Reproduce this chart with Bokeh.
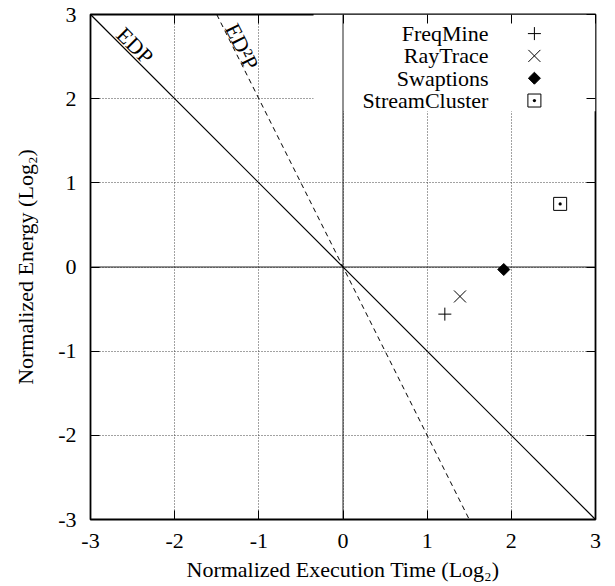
import numpy as np
from bokeh.plotting import figure
from bokeh.models import Span, BoxAnnotation, LinearAxis, FixedTicker
from bokeh.core.properties import value
from bokeh.embed import file_html
from bokeh.resources import INLINE

# ---- data ----
series = ["FreqMine", "RayTrace", "Swaptions", "StreamCluster"]
time_log2 = [1.21, 1.39, 1.91, 2.58]
energy_log2 = [-0.56, -0.35, -0.03, 0.75]
tick_values = [-3, -2, -1, 0, 1, 2, 3]
tick_labels = ["-3", "-2", "-1", "0", "1", "2", "3"]
edp_time = [-3, 3]
edp_energy = [3, -3]
ed2p_time = [-1.5, 1.5]
ed2p_energy = [3, -3]

# ---- styles ----
FONT = "Liberation Serif"
FS = "22px"
marker_styles = [
    dict(marker="cross", size=13, angle=0.0, fill_color=None),
    dict(marker="x", size=17, angle=0.0, fill_color=None),
    dict(marker="square", size=8.5, angle=np.pi / 4, fill_color="black"),
    dict(marker="square_dot", size=13, angle=0.0, fill_color=None),
]

p = figure(
    frame_width=505, frame_height=505,
    x_range=(-3, 3), y_range=(-3, 3),
    output_backend="svg", toolbar_location=None,
    min_border_left=90, min_border_right=20,
    min_border_top=14, min_border_bottom=67,
    background_fill_color="white", border_fill_color="white",
)
p.outline_line_color = "black"
p.outline_line_width = 1.8

overrides = {v: t for v, t in zip(tick_values, tick_labels)}
for ax in (p.xaxis[0], p.yaxis[0]):
    ax.ticker = FixedTicker(ticks=tick_values)
    ax.major_label_overrides = overrides
    ax.major_tick_in = 9
    ax.major_tick_out = 0
    ax.minor_tick_in = 0
    ax.minor_tick_out = 0
    ax.axis_line_color = None
    ax.major_tick_line_color = "black"
    ax.major_label_text_font = FONT
    ax.major_label_text_font_size = FS
    ax.major_label_text_color = "black"
    ax.axis_label_text_font = FONT
    ax.axis_label_text_font_size = FS
    ax.axis_label_text_font_style = "normal"
    ax.axis_label_text_color = "black"

p.xaxis.axis_label = "Normalized Execution Time (Log\u2082)"
p.yaxis.axis_label = "Normalized Energy (Log\u2082)"
p.xaxis.major_label_standoff = 14
p.xaxis.axis_label_standoff = 6
p.yaxis.major_label_standoff = 14
p.yaxis.axis_label_standoff = 17

# mirror ticks on top and right (no labels drawn)
for loc in ("above", "right"):
    m = LinearAxis(
        ticker=FixedTicker(ticks=tick_values),
        major_tick_in=9, major_tick_out=0,
        minor_tick_in=0, minor_tick_out=0,
        axis_line_color=None,
        major_tick_line_color="black",
        major_label_text_font_size="1px",
        major_label_text_color=None,
        major_label_standoff=0,
    )
    p.add_layout(m, loc)

p.grid.ticker = FixedTicker(ticks=tick_values)
p.grid.grid_line_color = "#444444"
p.grid.grid_line_dash = "1 2"
p.grid.grid_line_width = 1

# key area background (hides grid behind key)
p.add_layout(BoxAnnotation(left=-0.35, right=3, bottom=1.85, top=3,
                           fill_color="white", fill_alpha=1.0,
                           line_color=None, level="underlay"))

# zero axes
p.add_layout(Span(location=0, dimension="height", line_color="#222222",
                  line_width=1, level="underlay"))
p.add_layout(Span(location=0, dimension="width", line_color="#222222",
                  line_width=1, level="underlay"))

# iso-metric lines
p.line(edp_time, edp_energy, line_color="black", line_width=1.2)
p.line(ed2p_time, ed2p_energy, line_color="black", line_width=1, line_dash="5 4")

p.text(x=[-2.47], y=[2.63], text=["EDP"], angle=-np.pi / 4,
       text_font=value(FONT), text_font_size=FS, text_color="black",
       text_align="center", text_baseline="middle")
p.text(x=[-1.20], y=[2.62], text=["ED\u00b2P"], angle=np.arctan2(-2, 1),
       text_font=value(FONT), text_font_size=FS, text_color="black",
       text_align="center", text_baseline="middle")

# data points
for i, name in enumerate(series):
    st = marker_styles[i]
    p.scatter([time_log2[i]], [energy_log2[i]], marker=st["marker"], size=st["size"],
              angle=st["angle"], line_color="black", line_width=1,
              fill_color=st["fill_color"])

# key (labels right-aligned, symbols to the right, gnuplot style)
key_text_x = 1.728
key_mark_x = 2.274
key_top = 2.773
key_step = 0.265
rows = [key_top - i * key_step for i in range(len(series))]
p.text(x=[key_text_x] * len(series), y=rows, text=series,
       text_font=value(FONT), text_font_size=FS, text_color="black",
       text_align="right", text_baseline="middle")
for i, name in enumerate(series):
    st = marker_styles[i]
    p.scatter([key_mark_x], [rows[i]], marker=st["marker"], size=st["size"],
              angle=st["angle"], line_color="black", line_width=1,
              fill_color=st["fill_color"])

open("out.html", "w").write(file_html(p, INLINE))
